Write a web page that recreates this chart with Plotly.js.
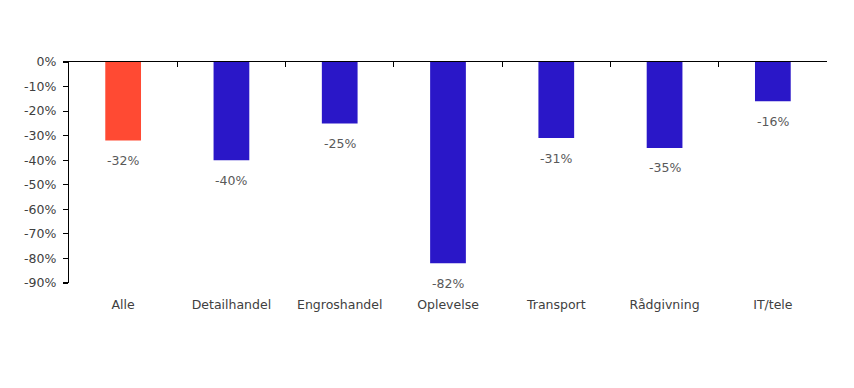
<!DOCTYPE html>
<html><head><meta charset="utf-8">
<script src="https://cdn.plot.ly/plotly-3.0.1.min.js"></script>
<style>body{margin:0;background:#fff}#c{width:854px;height:388px}</style>
</head><body><div id="c"></div>
<script>
const categories = ["Alle","Detailhandel","Engroshandel","Oplevelse","Transport","Rådgivning","IT/tele"];
const values = [-32,-40,-25,-82,-31,-35,-16];
const barColors = ["#FF4A33","#2A17C8","#2A17C8","#2A17C8","#2A17C8","#2A17C8","#2A17C8"];
const yTicks = [0,-10,-20,-30,-40,-50,-60,-70,-80,-90];

const fam = "'DejaVu Sans', sans-serif";
const data = [{
  type:"bar", x:categories, y:values, marker:{color:barColors}, width:0.33,
  hoverinfo:"none"
},{
  type:"scatter", x:[-0.5,6.5], y:[0,0], xaxis:"x2", yaxis:"y", mode:"none", hoverinfo:"none", showlegend:false
}];
const layout = {
  width:854, height:388, showlegend:false,
  margin:{l:69,r:27,t:62,b:105},
  paper_bgcolor:"#fff", plot_bgcolor:"#fff",
  font:{family:fam,size:12.5,color:"#595959"},
  xaxis:{type:"category", range:[-0.5,6.5], showline:false, ticks:"", showgrid:false, zeroline:false,
         tickfont:{family:fam,size:12.5,color:"#404040"}, ticklabelstandoff:12},
  xaxis2:{overlaying:"x", anchor:"y", side:"top", range:[-0.5,6.5], showline:true, linecolor:"#000", linewidth:1.2,
          ticks:"inside", ticklen:5, tickcolor:"#000", tickwidth:1.2, tickvals:[-0.5,0.5,1.5,2.5,3.5,4.5,5.5,6.5],
          showticklabels:false, showgrid:false, zeroline:false},
  yaxis:{range:[-90,0], tickvals:yTicks, ticktext:yTicks.map(v=>v+"%"), showline:true, linecolor:"#000", linewidth:1.2,
         ticks:"outside", ticklen:5, tickcolor:"#000", tickwidth:1.2, showgrid:false, zeroline:false,
         tickfont:{family:fam,size:12.5,color:"#404040"}, ticklabelstandoff:4},
  annotations: categories.map((c,i)=>({x:c, y:values[i], xref:"x", yref:"y", text:values[i]+"%", showarrow:false,
      yshift:-20, font:{family:fam,size:12.5,color:"#595959"}}))
};
Plotly.newPlot("c", data, layout, {staticPlot:true});
</script></body></html>
